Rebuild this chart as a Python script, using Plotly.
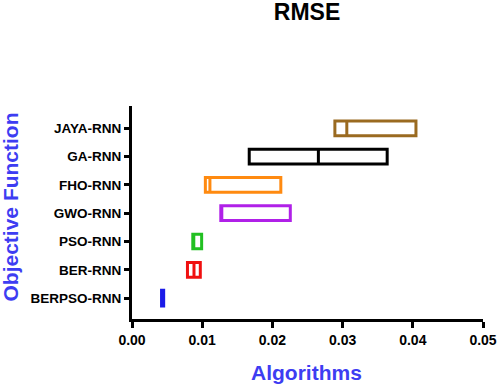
import plotly.graph_objects as go

algorithms = ["BERPSO-RNN", "BER-RNN", "PSO-RNN", "GWO-RNN", "FHO-RNN", "GA-RNN", "JAYA-RNN"]
q1 = [0.00428, 0.00790, 0.00866, 0.01265, 0.01045, 0.01670, 0.02890]
median = [0.00436, 0.00883, 0.00866, 0.01270, 0.01110, 0.02655, 0.03060]
q3 = [0.00444, 0.00973, 0.00992, 0.02255, 0.02120, 0.03635, 0.04045]
colors = ["#1b1be8", "#f01010", "#22c022", "#b020e8", "#ff8a10", "#000000", "#9a6a20"]
x_ticks = [0, 0.01, 0.02, 0.03, 0.04, 0.05]
x_tick_labels = ["0.00", "0.01", "0.02", "0.03", "0.04", "0.05"]

FONT = "Arial, Liberation Sans, Helvetica, sans-serif"
BLUE = "#3d3df2"

fig = go.Figure()
for i, name in enumerate(algorithms):
    fig.add_trace(go.Box(
        y=[name], q1=[q1[i]], median=[median[i]], q3=[q3[i]],
        lowerfence=[q1[i]], upperfence=[q3[i]],
        orientation="h", name=name,
        line=dict(color=colors[i], width=3 if i else 4),
        fillcolor="white", width=0.52, whiskerwidth=0,
        boxpoints=False, showlegend=False, hoverinfo="x+y",
    ))

fig.update_layout(
    width=498, height=384,
    margin=dict(l=132, r=15, t=106, b=65),
    plot_bgcolor="white", paper_bgcolor="white",
    title=dict(text="RMSE", x=307 / 498, xanchor="center", y=1 - 12 / 384, yanchor="middle",
               font=dict(family=FONT, size=23, color="black", weight="bold")),
    xaxis=dict(
        range=[0, 0.05], tickvals=x_ticks, ticktext=x_tick_labels,
        showgrid=False, zeroline=False, automargin=False,
        showline=True, linecolor="black", linewidth=3,
        ticks="outside", ticklen=6, tickwidth=2.5, tickcolor="black",
        tickfont=dict(family=FONT, size=14, color="black", weight="bold"),
    ),
    yaxis=dict(
        type="category", categoryorder="array", categoryarray=algorithms,
        range=[-0.74, 6.79],
        showgrid=False, zeroline=False, automargin=False,
        showline=True, linecolor="black", linewidth=3,
        ticks="outside", ticklen=5, tickwidth=2.5, tickcolor="black",
        tickfont=dict(family=FONT, size=13.5, color="black", weight="bold"),
    ),
    annotations=[
        dict(text="Algorithms", xref="paper", yref="paper",
             x=(306 - 132) / 351, y=-(372 - 319) / 213, xanchor="center", yanchor="middle",
             showarrow=False, font=dict(family=FONT, size=21, color=BLUE, weight="bold")),
        dict(text="Objective Function", xref="paper", yref="paper",
             x=-(132 - 10) / 351, y=(319 - 206.5) / 213, xanchor="center", yanchor="middle",
             textangle=-90, showarrow=False,
             font=dict(family=FONT, size=21, color=BLUE, weight="bold")),
    ],
)

fig.write_html(
    "out.html",
    config={"displayModeBar": False},
    post_script="document.body.style.margin='0';document.body.style.padding='0';document.body.style.overflow='hidden';",
)
